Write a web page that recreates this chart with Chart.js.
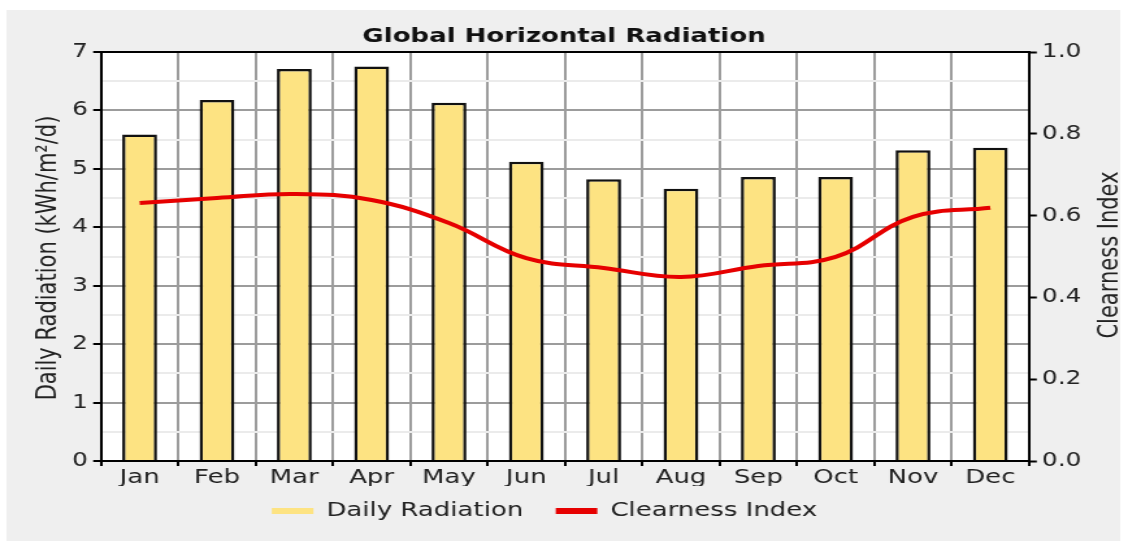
<!DOCTYPE html>
<html>
<head>
<meta charset="utf-8">
<script src="https://cdn.jsdelivr.net/npm/chart.js@4/dist/chart.umd.min.js"></script>
<style>
  html, body { margin: 0; padding: 0; background: #ffffff; overflow: hidden; }
  #wrap { width: 868px; height: 541px; transform: scaleX(1.29954); transform-origin: 0 0; }
  canvas { display: block; }
</style>
</head>
<body>
<div id="wrap"><canvas id="c" width="868" height="541"></canvas></div>
<script>
// ---- data ----
const months = ['Jan', 'Feb', 'Mar', 'Apr', 'May', 'Jun', 'Jul', 'Aug', 'Sep', 'Oct', 'Nov', 'Dec'];
const dailyRadiation = [5.59, 6.18, 6.71, 6.75, 6.13, 5.12, 4.82, 4.66, 4.86, 4.86, 5.32, 5.36];
const clearnessIndex = [0.631, 0.643, 0.653, 0.638, 0.582, 0.496, 0.472, 0.450, 0.477, 0.499, 0.597, 0.619];
const seriesNames = ['Daily Radiation', 'Clearness Index'];
const chartTitle = 'Global Horizontal Radiation';
const leftAxisTitle = 'Daily Radiation (kWh/m\u00B2/d)';
const rightAxisTitle = 'Clearness Index';

// ---- styles ----
const FONT = 'DejaVu Sans';
const BAR_FILL = '#FDE382';
const LINE_RED = '#E60000';
const TEXT = '#222222';
const GRID_MAJOR = '#9c9c9c';
const GRID_MINOR = '#ebebeb';

const decor = {
  id: 'decor',
  beforeDraw(chart) {
    const ctx = chart.ctx, a = chart.chartArea;
    ctx.save();
    ctx.fillStyle = '#ffffff';
    ctx.fillRect(0, 0, chart.width, chart.height);
    ctx.fillStyle = '#efefef';
    ctx.fillRect(5, 10, 857, 531);
    ctx.fillStyle = '#ffffff';
    ctx.fillRect(a.left, a.top, a.right - a.left, a.bottom - a.top);
    ctx.restore();
  },
  afterLayout(chart) {
    const L = chart.legend;
    if (L) { L.left -= 15; L.right -= 15; L.top -= 10; L.bottom -= 10; }
  },
  afterDraw(chart) {
    const ctx = chart.ctx, a = chart.chartArea;
    ctx.save();
    // top frame line
    ctx.strokeStyle = '#000';
    ctx.lineWidth = 2;
    ctx.beginPath();
    ctx.moveTo(a.left, a.top);
    ctx.lineTo(a.right, a.top);
    ctx.stroke();
    // axis titles (both read bottom-to-top)
    ctx.fillStyle = TEXT;
    ctx.font = '21px "' + FONT + '"';
    ctx.textAlign = 'center';
    ctx.textBaseline = 'middle';
    ctx.save();
    ctx.translate(37.7, 258);
    ctx.rotate(-Math.PI / 2);
    ctx.fillText(leftAxisTitle, 0, 0);
    ctx.restore();
    ctx.save();
    ctx.translate(855, 255);
    ctx.rotate(-Math.PI / 2);
    ctx.fillText(rightAxisTitle, 0, 0);
    ctx.restore();
    ctx.restore();
  }
};

Chart.defaults.font.family = FONT;
Chart.defaults.color = TEXT;

new Chart(document.getElementById('c'), {
  data: {
    labels: months,
    datasets: [
      {
        type: 'bar',
        label: seriesNames[0],
        data: dailyRadiation,
        yAxisID: 'y',
        backgroundColor: BAR_FILL,
        borderColor: '#111111',
        borderWidth: 2.5,
        barPercentage: 0.45,
        categoryPercentage: 1.0,
        order: 2
      },
      {
        type: 'line',
        label: seriesNames[1],
        data: clearnessIndex,
        yAxisID: 'y1',
        borderColor: LINE_RED,
        backgroundColor: LINE_RED,
        borderWidth: 4,
        pointRadius: 0,
        tension: 0.4,
        fill: false,
        order: 1
      }
    ]
  },
  options: {
    responsive: false,
    devicePixelRatio: 1,
    animation: false,
    layout: { padding: 0 },
    plugins: {
      title: {
        display: true,
        text: chartTitle,
        color: '#111111',
        font: { family: FONT, size: 20, weight: 'bold', lineHeight: 1.2 },
        padding: { top: 25, bottom: 3 }
      },
      legend: {
        position: 'bottom',
        labels: {
          font: { family: FONT, size: 20 },
          color: TEXT,
          boxWidth: 32,
          boxHeight: 6,
          padding: 25,
          generateLabels() {
            return [
              { text: seriesNames[0], fillStyle: BAR_FILL, strokeStyle: BAR_FILL, lineWidth: 0, hidden: false, datasetIndex: 0, fontColor: TEXT },
              { text: seriesNames[1], fillStyle: LINE_RED, strokeStyle: LINE_RED, lineWidth: 0, hidden: false, datasetIndex: 1, fontColor: TEXT }
            ];
          }
        }
      },
      tooltip: { enabled: false }
    },
    scales: {
      x: {
        offset: true,
        grid: {
          offset: true,
          color: GRID_MAJOR,
          lineWidth: 2,
          tickLength: 5,
          tickColor: '#000',
          tickWidth: 2
        },
        border: { color: '#000', width: 2 },
        ticks: { padding: 0, color: TEXT, font: { family: FONT, size: 20 } },
        afterFit(s) { s.height = 25; }
      },
      y: {
        position: 'left',
        min: 0,
        max: 7,
        ticks: {
          stepSize: 0.5,
          padding: 4,
          color: TEXT,
          font: { family: FONT, size: 19 },
          callback: v => (Number.isInteger(v) ? String(v) : '')
        },
        grid: {
          color: c => (c.tick && Number.isInteger(c.tick.value) ? GRID_MAJOR : GRID_MINOR),
          lineWidth: 2,
          tickLength: 6,
          tickColor: c => (c.tick && Number.isInteger(c.tick.value) ? '#000' : 'rgba(0,0,0,0)'),
          tickWidth: 2
        },
        border: { color: '#000', width: 2 },
        afterFit(s) { s.width = 77.7; }
      },
      y1: {
        position: 'right',
        min: 0,
        max: 1,
        ticks: {
          stepSize: 0.2,
          padding: 4,
          color: TEXT,
          font: { family: FONT, size: 19 },
          callback: v => Number(v).toFixed(1)
        },
        grid: {
          drawOnChartArea: false,
          tickLength: 6,
          tickColor: '#000',
          tickWidth: 2
        },
        border: { color: '#000', width: 2 },
        afterFit(s) { s.width = 76.2; }
      }
    }
  },
  plugins: [decor]
});
</script>
</body>
</html>
